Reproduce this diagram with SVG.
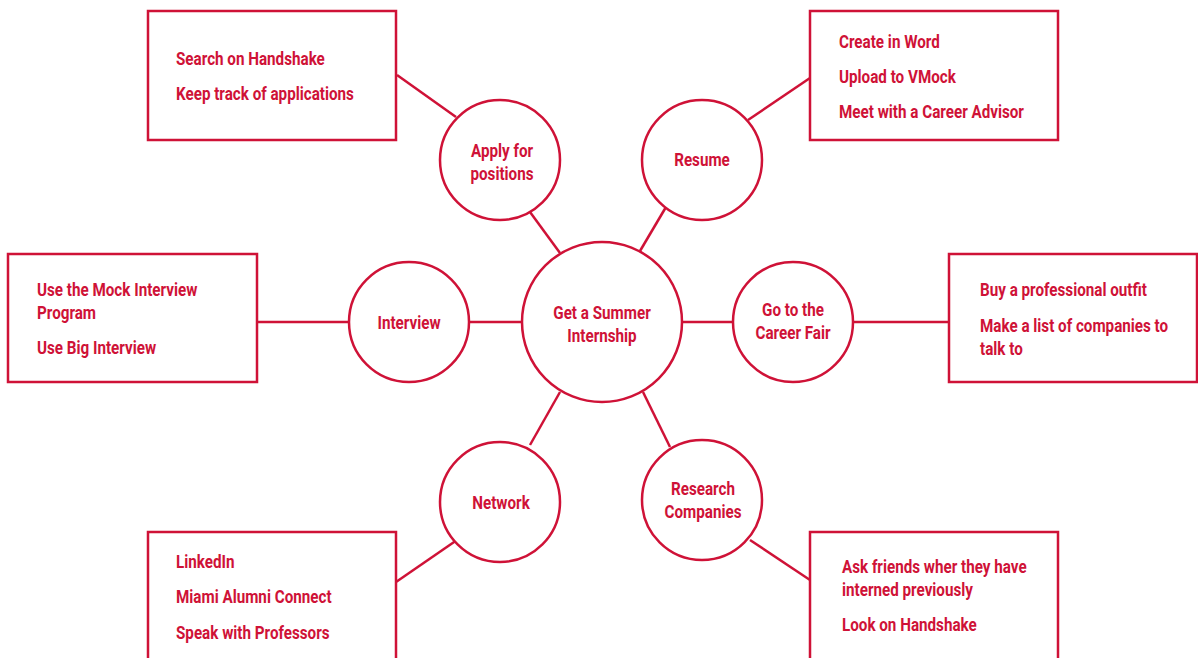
<svg xmlns="http://www.w3.org/2000/svg" width="1198" height="658" viewBox="0 0 1198 658">
<style>
.s{fill:none;stroke:#CF1237;stroke-width:2.5}
.n{fill:#fff;stroke:#CF1237;stroke-width:2.5}
text{font-family:"Roboto","Liberation Sans",sans-serif;font-size:18px;font-weight:bold;fill:#CF1237}
.c{text-anchor:middle}
</style>
<rect width="1198" height="658" fill="#fff"/>
<g id="connectors" class="s">
<line x1="397" y1="75" x2="456" y2="117"/>
<line x1="530" y1="212" x2="560" y2="253"/>
<line x1="666" y1="207" x2="640" y2="251"/>
<line x1="748" y1="120" x2="810" y2="78"/>
<line x1="257" y1="322" x2="349" y2="322"/>
<line x1="469" y1="322" x2="522" y2="322"/>
<line x1="682" y1="322" x2="733" y2="322"/>
<line x1="853" y1="322" x2="949" y2="322"/>
<line x1="560" y1="392" x2="530" y2="445"/>
<line x1="457" y1="540" x2="396" y2="582"/>
<line x1="643" y1="392" x2="670" y2="447"/>
<line x1="750" y1="540" x2="810" y2="580"/>
</g>
<g id="center"><circle class="n" cx="602" cy="322" r="80"/><text class="c" transform="translate(602,319) scale(0.845,1)">Get a Summer</text><text class="c" transform="translate(602,342) scale(0.845,1)">Internship</text></g>
<g id="apply"><circle class="n" cx="500" cy="160" r="60"/><text class="c" transform="translate(502,157) scale(0.845,1)">Apply for</text><text class="c" transform="translate(502,180) scale(0.845,1)">positions</text></g>
<g id="resume"><circle class="n" cx="702" cy="160" r="60"/><text class="c" transform="translate(702,166) scale(0.845,1)">Resume</text></g>
<g id="interview"><circle class="n" cx="409" cy="322" r="60"/><text class="c" transform="translate(409,329) scale(0.845,1)">Interview</text></g>
<g id="careerfair"><circle class="n" cx="793" cy="322" r="60"/><text class="c" transform="translate(793,316) scale(0.845,1)">Go to the</text><text class="c" transform="translate(793,339) scale(0.845,1)">Career Fair</text></g>
<g id="network"><circle class="n" cx="500" cy="502" r="60"/><text class="c" transform="translate(501,509) scale(0.845,1)">Network</text></g>
<g id="research"><circle class="n" cx="702" cy="500" r="60"/><text class="c" transform="translate(703,495) scale(0.845,1)">Research</text><text class="c" transform="translate(703,518) scale(0.845,1)">Companies</text></g>
<g id="apply-box"><rect class="n" x="148" y="11" width="248" height="129"/><text transform="translate(176,65) scale(0.845,1)">Search on Handshake</text><text transform="translate(176,100) scale(0.845,1)">Keep track of applications</text></g>
<g id="resume-box"><rect class="n" x="810" y="11" width="248" height="129"/><text transform="translate(839,48) scale(0.845,1)">Create in Word</text><text transform="translate(839,83) scale(0.845,1)">Upload to VMock</text><text transform="translate(839,118) scale(0.845,1)">Meet with a Career Advisor</text></g>
<g id="interview-box"><rect class="n" x="8" y="254" width="249" height="128"/><text transform="translate(37,296) scale(0.845,1)">Use the Mock Interview</text><text transform="translate(37,319) scale(0.845,1)">Program</text><text transform="translate(37,354) scale(0.845,1)">Use Big Interview</text></g>
<g id="careerfair-box"><rect class="n" x="949" y="254" width="248" height="128"/><text transform="translate(980,296) scale(0.845,1)">Buy a professional outfit</text><text transform="translate(980,332) scale(0.845,1)">Make a list of companies to</text><text transform="translate(980,355) scale(0.845,1)">talk to</text></g>
<g id="network-box"><rect class="n" x="148" y="532" width="248" height="140"/><text transform="translate(176,568) scale(0.845,1)">LinkedIn</text><text transform="translate(176,603) scale(0.845,1)">Miami Alumni Connect</text><text transform="translate(176,639) scale(0.845,1)">Speak with Professors</text></g>
<g id="research-box"><rect class="n" x="810" y="532" width="248" height="140"/><text transform="translate(842,573) scale(0.845,1)">Ask friends wher they have</text><text transform="translate(842,596) scale(0.845,1)">interned previously</text><text transform="translate(842,631) scale(0.845,1)">Look on Handshake</text></g>
</svg>
